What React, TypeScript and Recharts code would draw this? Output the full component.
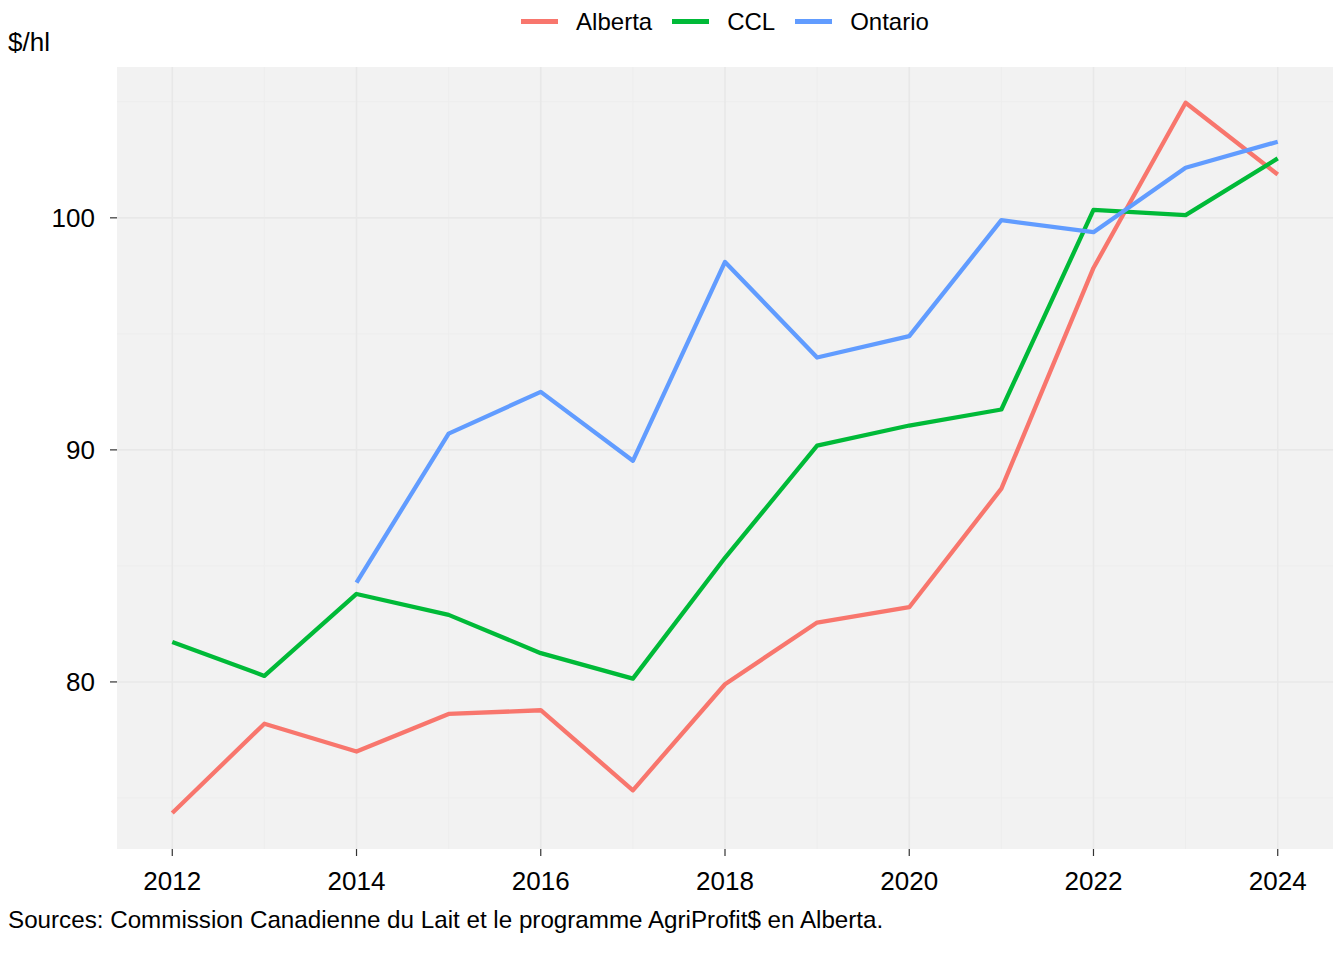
import { LineChart, Line, XAxis, YAxis, CartesianGrid, Legend } from 'recharts';

const FONT = '"Liberation Sans", Arial, sans-serif';

// years on the x axis
const years = [2012, 2013, 2014, 2015, 2016, 2017, 2018, 2019, 2020, 2021, 2022, 2023, 2024];

// prices in $/hl
const alberta = [74.35, 78.2, 77.0, 78.62, 78.78, 75.33, 79.9, 82.56, 83.22, 88.33, 97.84, 104.96, 101.87];
const ccl = [81.72, 80.26, 83.79, 82.89, 81.24, 80.14, 85.35, 90.18, 91.05, 91.74, 100.34, 100.12, 102.56];
const ontario = [null, null, 84.28, 90.7, 92.5, 89.53, 98.1, 93.98, 94.9, 99.9, 99.38, 102.16, 103.28];

const seriesNames = ['Alberta', 'CCL', 'Ontario'];
const seriesColors = ['#F8766D', '#00BA38', '#619CFF'];

const xTicks = [2012, 2014, 2016, 2018, 2020, 2022, 2024];
const xMinor = [2013, 2015, 2017, 2019, 2021, 2023];
const yTicks = [80, 90, 100];
const yMinor = [75, 85, 95, 105];

const data = years.map((year, i) => ({
  year,
  Alberta: alberta[i],
  CCL: ccl[i],
  Ontario: ontario[i],
}));

const renderLegend = () => (
  <div
    style={{
      display: 'flex',
      justifyContent: 'center',
      alignItems: 'center',
      gap: 20,
      fontFamily: FONT,
      fontSize: 24,
      lineHeight: '24px',
      color: '#000',
    }}
  >
    {seriesNames.map((name, i) => (
      <div key={name} style={{ display: 'flex', alignItems: 'center' }}>
        <div style={{ width: 37, height: 5, background: seriesColors[i], marginRight: 18 }} />
        <span>{name}</span>
      </div>
    ))}
  </div>
);

export default function App() {
  return (
    <div style={{ position: 'absolute', left: 0, top: 0, width: 1344, height: 960, background: '#fff' }}>
      <LineChart
        width={1344}
        height={960}
        data={data}
        margin={{ top: 67, right: 11, left: 0, bottom: 0 }}
      >
        {/* panel background + minor grid */}
        <CartesianGrid
          fill="#F2F2F2"
          stroke="#EDEDED"
          strokeWidth={1}
          verticalValues={xMinor}
          horizontalValues={yMinor}
        />
        {/* major grid */}
        <CartesianGrid
          fill="none"
          stroke="#E8E8E8"
          strokeWidth={1.6}
          verticalValues={xTicks}
          horizontalValues={yTicks}
        />
        <XAxis
          dataKey="year"
          type="number"
          domain={[2011.4, 2024.6]}
          ticks={xTicks}
          allowDataOverflow
          axisLine={false}
          tickLine={{ stroke: '#333', strokeWidth: 1.2 }}
          tickSize={7}
          tickMargin={16}
          height={111}
          tick={{ fill: '#000', fontSize: 26, fontFamily: FONT }}
        />
        <YAxis
          type="number"
          domain={[72.8, 106.5]}
          ticks={yTicks}
          allowDataOverflow
          axisLine={false}
          tickLine={{ stroke: '#333', strokeWidth: 1.2 }}
          tickSize={7}
          tickMargin={15}
          width={117}
          tick={{ fill: '#000', fontSize: 26, fontFamily: FONT }}
        />
        <Legend
          layout="horizontal"
          verticalAlign="middle"
          align="center"
          content={renderLegend}
          wrapperStyle={{ top: 9.5, left: 117, width: 1216, height: 24 }}
        />
        {seriesNames.map((name, i) => (
          <Line
            key={name}
            type="linear"
            dataKey={name}
            stroke={seriesColors[i]}
            strokeWidth={4.3}
            strokeLinejoin="round"
            strokeLinecap="butt"
            dot={false}
            activeDot={false}
            connectNulls={false}
            isAnimationActive={false}
          />
        ))}
      </LineChart>
      <div
        style={{
          position: 'absolute',
          left: 8,
          top: 29,
          fontFamily: FONT,
          fontSize: 26,
          lineHeight: '26px',
          color: '#000',
        }}
      >
        $/hl
      </div>
      <div
        style={{
          position: 'absolute',
          left: 8,
          top: 908,
          fontFamily: FONT,
          fontSize: 24.2,
          lineHeight: '24px',
          color: '#000',
          whiteSpace: 'nowrap',
        }}
      >
        Sources: Commission Canadienne du Lait et le programme AgriProfit$ en Alberta.
      </div>
    </div>
  );
}
